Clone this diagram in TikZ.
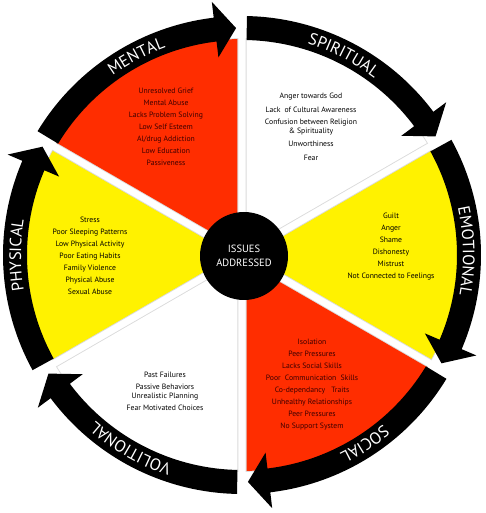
\documentclass[tikz,border=0pt]{standalone}
\usepackage{fontspec}
\setmainfont{PT Sans}
\usetikzlibrary{decorations.text}
\definecolor{wred}{RGB}{255,45,0}
\definecolor{wyellow}{RGB}{255,242,0}
\definecolor{redtext}{RGB}{60,0,0}
\newcommand{\labfont}{\fontsize{16.5}{16.5}\selectfont}
\tikzset{
  itemlist/.style={align=center, inner sep=0pt, font=\fontsize{7.7}{12}\selectfont},
  bandlabel/.style={decorate, decoration={text along path, text align=center, text color=white}}
}
\begin{document}
\begin{tikzpicture}[x=1pt,y=1pt]
\useasboundingbox (-242,-258) rectangle (244,255);
% sectors: cw edge / ccw edge / colour
\foreach \a/\b/\c in {90/150/wred, 30/90/white, -30/30/wyellow, -90/-30/wred, -150/-90/white, 150/210/wyellow}{
  \pgfmathsetmacro{\m}{(\a+\b)/2}
  \pgfmathsetmacro{\sa}{\a+1.2}
  \pgfmathsetmacro{\sb}{\b-1.2}
  \draw[black!14, line width=1.8pt] (\m:9) -- (\sa:216) arc[start angle=\sa, end angle=\sb, radius=216pt] -- cycle;
  \fill[\c] (\m:9) -- (\sa:216) arc[start angle=\sa, end angle=\sb, radius=216pt] -- cycle;
}
% arrow bands
\foreach \a/\b in {90/150, 30/90, -30/30, -90/-30, -150/-90, 150/210}{
  \pgfmathsetmacro{\ta}{\b-1.2}
  \pgfmathsetmacro{\tp}{\a+1.5}
  \pgfmathsetmacro{\hb}{\a+6.8}
  \fill[black] (\ta:239) arc[start angle=\ta, end angle=\hb, radius=239pt] -- (\hb:255) -- (\tp:227) -- (\hb:199) -- (\hb:215) arc[start angle=\hb, end angle=\ta, radius=215pt] -- cycle;
}
% band labels (clockwise, tops outward)
\path[bandlabel, decoration={text={|\labfont|MENTAL}}] (163:221) arc[start angle=163, end angle=73, radius=221pt];
\path[bandlabel, decoration={text={|\labfont|SPIRITUAL}}] (108:221) arc[start angle=108, end angle=18, radius=221pt];
\path[bandlabel, decoration={text={|\labfont|EMOTIONAL}}] (46:221) arc[start angle=46, end angle=-44, radius=221pt];
\path[bandlabel, decoration={text={|\labfont|SOCIAL}}] (-12:221) arc[start angle=-12, end angle=-102, radius=221pt];
\path[bandlabel, decoration={text={|\labfont|VOLITIONAL}}] (-75:221) arc[start angle=-75, end angle=-165, radius=221pt];
\path[bandlabel, decoration={text={|\labfont|PHYSICAL}}] (225:221) arc[start angle=225, end angle=135, radius=221pt];
% centre
\node[circle, fill=black, minimum size=88pt, inner sep=0pt, text=white, align=center,
      font=\fontsize{10.5}{14}\selectfont] (hub) at (2,-1) {ISSUES\\ADDRESSED};
% lists
\node[itemlist, text=redtext] (mentallist) at (-76,128) {Unresolved Grief\\Mental Abuse\\Lacks Problem Solving\\Low Self Esteem\\Al/drug Addiction\\Low Education\\Passiveness};
\node[itemlist, font=\fontsize{7.7}{12.5}\selectfont] (spirituallist) at (69,128) {Anger towards God\\[1pt]Lack\ \ of Cultural Awareness\\Confusion between Religion\\[-3.5pt]\&~Spirituality\\Unworthiness\\[1.5pt]Fear};
\node[itemlist] (emotionallist) at (149,8) {Guilt\\Anger\\Shame\\Dishonesty\\Mistrust\\Not Connected to Feelings};
\node[itemlist, text=redtext] (sociallist) at (70,-130) {Isolation\\Peer Pressures\\Lacks Social Skills\\Poor\ \ Communication\ \ Skills\\Co-dependancy\ \ \ Traits\\Unhealthy Relationships\\Peer Pressures\\No Support System};
\node[itemlist] (volitionallist) at (-77,-136.5) {Past Failures\\Passive Behaviors\\[-3pt]Unrealistic Planning\\Fear Motivated Choices};
\node[itemlist] (physicallist) at (-152,-1) {Stress\\Poor Sleeping Patterns\\Low Physical Activity\\Poor Eating Habits\\Family Violence\\Physical Abuse\\Sexual Abuse};
\end{tikzpicture}
\end{document}
